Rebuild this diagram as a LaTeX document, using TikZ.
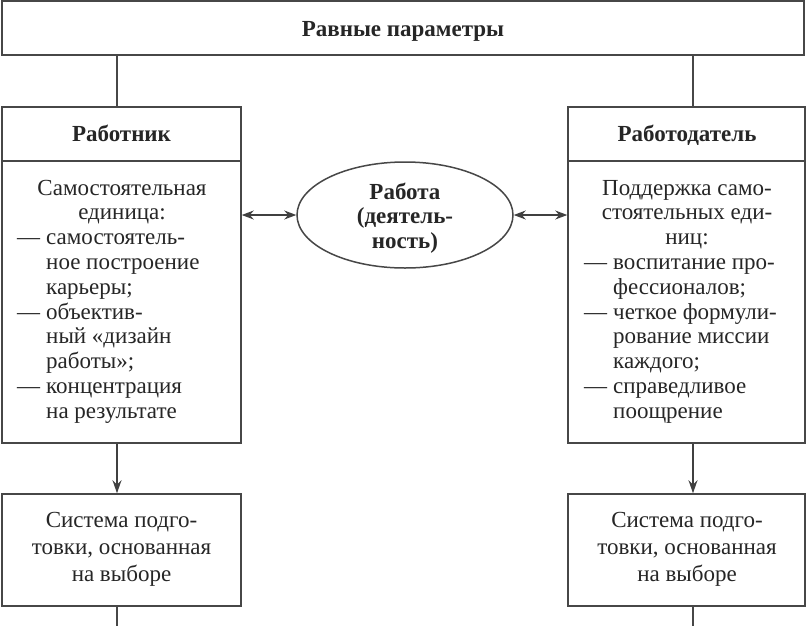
\documentclass[tikz,border=0pt]{standalone}
\usepackage{fontspec}
\setmainfont{Liberation Serif}
\usetikzlibrary{arrows.meta,shapes.geometric}
\begin{document}
\begin{tikzpicture}[x=1pt,y=-1pt,
  frame/.style={draw=black!72, line width=1.5pt, inner sep=0pt},
  lbl/.style={inner sep=0pt, text=black!85, font=\fontsize{23}{24.8}\selectfont},
  hdr/.style={inner sep=0pt, text=black!85, font=\fontsize{23}{24.8}\selectfont\bfseries},
  btxt/.style={inner sep=0pt, text=black!85, font=\fontsize{23}{27}\selectfont},
  conn/.style={draw=black!72, line width=1.5pt},
  dbl/.style={draw=black!75, line width=1.2pt, {Stealth[length=12pt,width=9pt]}-{Stealth[length=12pt,width=9pt]}},
  down/.style={draw=black!75, line width=1.3pt, -{Stealth[length=13pt,width=9pt]}}
]
\useasboundingbox[fill=white] (0,0) rectangle (807,625);

% top box
\node[frame, minimum width=802pt, minimum height=54pt] (top) at (403,28) {};
\node[hdr, anchor=base] (topt) at (403,36) {Равные параметры};

% left column
\node[frame, minimum width=239pt, minimum height=54pt] (wk) at (121.5,134) {};
\node[frame, minimum width=239pt, minimum height=282pt] (wkb) at (121.5,302) {};
\node[hdr, anchor=base] (wkt) at (121.5,141) {Работник};
\node[lbl, anchor=north] (wkh) at (122,177.6) {\begin{tabular}{@{}c@{}}Самостоятельная\\единица:\end{tabular}};
\node[lbl, anchor=north west] (wkl) at (17,227.2) {\begin{tabular}{@{}l@{\hspace{6pt}}l@{}}— & самостоятель-\\ & ное построение\\ & карьеры;\\— & объектив-\\ & ный «дизайн\\ & работы»;\\— & концентрация\\ & на результате\end{tabular}};

% right column
\node[frame, minimum width=237pt, minimum height=54pt] (er) at (686.5,134) {};
\node[frame, minimum width=237pt, minimum height=282pt] (erb) at (686.5,302) {};
\node[hdr, anchor=base] (ert) at (687,141) {Работодатель};
\node[lbl, anchor=north] (erh) at (687,177.6) {\begin{tabular}{@{}c@{}}Поддержка само-\\стоятельных еди-\\ниц:\end{tabular}};
\node[lbl, anchor=north west] (erl) at (584,252) {\begin{tabular}{@{}l@{\hspace{6pt}}l@{}}— & воспитание про-\\ & фессионалов;\\— & четкое формули-\\ & рование миссии\\ & каждого;\\— & справедливое\\ & поощрение\end{tabular}};

% ellipse
\node[frame, ellipse, minimum width=216pt, minimum height=106pt] (ell) at (405,215) {};
\node[hdr, anchor=north] (ellt) at (405,181.6) {\begin{tabular}{@{}c@{}}Работа\\(деятель-\\ность)\end{tabular}};

% bottom boxes
\node[frame, minimum width=239pt, minimum height=112pt] (sl) at (121.5,550) {};
\node[btxt, anchor=north] (slt) at (121.5,508.1) {\begin{tabular}{@{}c@{}}Система подго-\\товки, основанная\\на выборе\end{tabular}};
\node[frame, minimum width=237pt, minimum height=112pt] (sr) at (686.5,550) {};
\node[btxt, anchor=north] (srt) at (687,508.1) {\begin{tabular}{@{}c@{}}Система подго-\\товки, основанная\\на выборе\end{tabular}};

% connectors
\coordinate (cl) at (117,0);
\coordinate (cr) at (693,0);
\coordinate (bot) at (0,626);
\draw[conn] (top.south -| cl) -- (wk.north -| cl);
\draw[conn] (top.south -| cr) -- (er.north -| cr);
\draw[dbl] (wkb.east |- ell.west) -- (ell.west);
\draw[dbl] (ell.east) -- (ell.east -| erb.west);
\draw[down] (wkb.south -| cl) -- (sl.north -| cl);
\draw[down] (erb.south -| cr) -- (sr.north -| cr);
\draw[conn] (sl.south -| cl) -- (bot -| cl);
\draw[conn] (sr.south -| cr) -- (bot -| cr);
\end{tikzpicture}
\end{document}
